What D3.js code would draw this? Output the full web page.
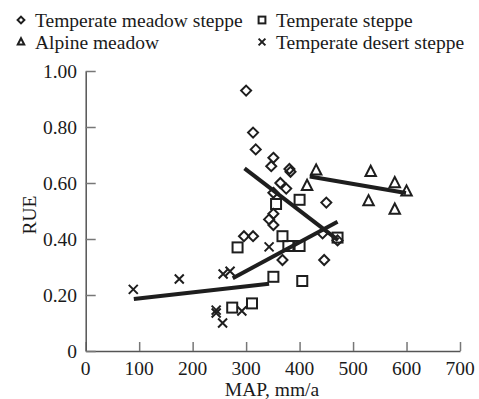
<!DOCTYPE html>
<html>
<head>
<meta charset="utf-8">
<script src="https://cdn.jsdelivr.net/npm/d3@7"></script>
<style>
  body { margin: 0; background: #fff; }
  text { font-family: "Liberation Serif", "Times New Roman", serif; fill: #1a1a1a; }
</style>
</head>
<body>
<div id="chart"></div>
<script>
// MAP (mm/a), RUE pairs
var meadowSteppe = [
  [300, 0.93], [313, 0.78], [318, 0.72], [351, 0.69], [347, 0.66],
  [381, 0.65], [383, 0.64], [364, 0.60], [375, 0.58], [351, 0.565],
  [450, 0.53], [351, 0.49], [343, 0.47], [351, 0.45], [296, 0.41],
  [313, 0.41], [443, 0.42], [368, 0.325], [446, 0.325], [471, 0.395]
];
var temperateSteppe = [
  [356, 0.525], [400, 0.54], [368, 0.41], [379, 0.375], [400, 0.375],
  [284, 0.37], [351, 0.265], [405, 0.25], [311, 0.17], [274, 0.155],
  [471, 0.405]
];
var alpineMeadow = [
  [431, 0.645], [414, 0.59], [533, 0.64], [578, 0.60], [600, 0.57],
  [529, 0.535], [578, 0.505]
];
var desertSteppe = [
  [89, 0.22], [175, 0.257], [257, 0.275], [270, 0.285], [244, 0.146],
  [244, 0.136], [256, 0.10], [292, 0.143], [343, 0.372]
];

// fitted lines (end points)
var fitDesert = [[90, 0.186], [343, 0.24]];
var fitSteppe = [[275, 0.26], [471, 0.462]];
var fitMeadow = [[297, 0.652], [472, 0.396]];
var fitAlpine = [[419, 0.623], [599, 0.564]];

var xTicks = [0, 100, 200, 300, 400, 500, 600, 700];
var yTicks = [0, 0.2, 0.4, 0.6, 0.8, 1.0];

var legendItems = [
  {name: "Temperate meadow steppe", shape: "diamond"},
  {name: "Temperate steppe", shape: "square"},
  {name: "Alpine meadow", shape: "triangle"},
  {name: "Temperate desert steppe", shape: "cross"}
];

var W = 479, H = 399;
var svg = d3.select("#chart").append("svg")
  .attr("width", W).attr("height", H);

var x = d3.scaleLinear().domain([0, 700]).range([85.7, 460]);
var y = d3.scaleLinear().domain([0, 1]).range([351, 71]);

var ink = "#1e1e1e";
var fs = "19.5px";

// axes with inward ticks
svg.append("g")
  .attr("transform", "translate(0," + y(0) + ")")
  .call(d3.axisBottom(x).tickValues(xTicks).tickSizeInner(-9).tickSizeOuter(0).tickFormat(""));
svg.append("g")
  .attr("transform", "translate(" + x(0) + ",0)")
  .call(d3.axisLeft(y).tickValues(yTicks).tickSizeInner(-10).tickSizeOuter(0).tickFormat(""));
svg.selectAll(".domain").attr("stroke", "#555").attr("stroke-width", 1.5);
svg.selectAll(".tick line").attr("stroke", "#777").attr("stroke-width", 1.5);

svg.append("g").selectAll("text")
  .data(xTicks).enter().append("text")
  .attr("x", function(d) { return x(d); })
  .attr("y", 375)
  .attr("text-anchor", "middle")
  .style("font-size", fs)
  .text(function(d) { return d; });

svg.append("g").selectAll("text")
  .data(yTicks).enter().append("text")
  .attr("x", 77)
  .attr("y", function(d) { return y(d) + 6.5; })
  .attr("text-anchor", "end")
  .style("font-size", fs)
  .text(function(d) { return d === 0 ? "0" : d.toFixed(2); });

svg.append("text")
  .attr("x", 272).attr("y", 396)
  .attr("text-anchor", "middle")
  .style("font-size", fs)
  .text("MAP, mm/a");

svg.append("text")
  .attr("transform", "translate(36,215) rotate(-90)")
  .attr("text-anchor", "middle")
  .style("font-size", fs)
  .text("RUE");

// marker drawing
function drawShape(sel, shape, s) {
  if (shape === "diamond") {
    sel.append("path").attr("d", "M0," + (-s) + "L" + s + ",0L0," + s + "L" + (-s) + ",0Z")
      .attr("fill", "none").attr("stroke", ink).attr("stroke-width", 2);
  } else if (shape === "square") {
    sel.append("rect").attr("x", -s).attr("y", -s).attr("width", 2 * s).attr("height", 2 * s)
      .attr("fill", "none").attr("stroke", ink).attr("stroke-width", 2);
  } else if (shape === "triangle") {
    sel.append("path").attr("d", "M0," + (-s * 1.1) + "L" + (s * 0.95) + "," + (s * 0.75) + "L" + (-s * 0.95) + "," + (s * 0.75) + "Z")
      .attr("fill", "none").attr("stroke", ink).attr("stroke-width", 2);
  } else {
    sel.append("path").attr("d", "M" + (-s) + "," + (-s) + "L" + s + "," + s + "M" + s + "," + (-s) + "L" + (-s) + "," + s)
      .attr("fill", "none").attr("stroke", ink).attr("stroke-width", 2);
  }
}

function plotSeries(data, shape, s) {
  svg.append("g").selectAll("g")
    .data(data).enter().append("g")
    .attr("transform", function(d) { return "translate(" + x(d[0]) + "," + y(d[1]) + ")"; })
    .each(function() { drawShape(d3.select(this), shape, s); });
}

plotSeries(meadowSteppe, "diamond", 5);
plotSeries(temperateSteppe, "square", 5);
plotSeries(alpineMeadow, "triangle", 5.5);
plotSeries(desertSteppe, "cross", 4.5);

// fitted lines
var line = d3.line()
  .x(function(d) { return x(d[0]); })
  .y(function(d) { return y(d[1]); });
[fitDesert, fitSteppe, fitMeadow, fitAlpine].forEach(function(f) {
  svg.append("path").datum(f).attr("d", line)
    .attr("fill", "none").attr("stroke", ink).attr("stroke-width", 4);
});

// legend
var legendPos = [[21, 20], [262, 20], [21, 42], [262, 42]];
legendItems.forEach(function(item, i) {
  var g = svg.append("g").attr("transform", "translate(" + legendPos[i][0] + "," + legendPos[i][1] + ")");
  drawShape(g.append("g"), item.shape, 3.4);
  g.append("text").attr("x", 14).attr("y", 6.5)
    .style("font-size", fs)
    .text(item.name);
});
</script>
</body>
</html>
